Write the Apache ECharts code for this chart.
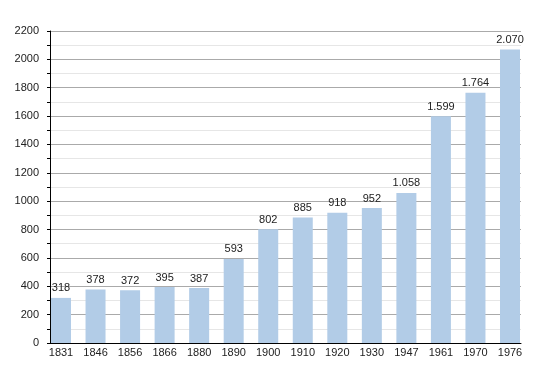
<!DOCTYPE html>
<html>
<head>
<meta charset="utf-8">
<script src="https://cdn.jsdelivr.net/npm/echarts@6/dist/echarts.min.js"></script>
<style>html,body{margin:0;padding:0;background:#fff}#c{width:550px;height:373px}</style>
</head>
<body>
<div id="c"></div>
<script>
var years = ['1831','1846','1856','1866','1880','1890','1900','1910','1920','1930','1947','1961','1970','1976'];
var population = [318,378,372,395,387,593,802,885,918,952,1058,1599,1764,2070];
var yMin = 0, yMax = 2200, yStep = 100;

function fmt(v){ return String(v).replace(/\B(?=(\d{3})+(?!\d))/g, '.'); }

var chart = echarts.init(document.getElementById('c'), null, {renderer:'canvas'});
var font = 'Liberation Sans, Arial, sans-serif';
chart.setOption({
  animation: false,
  grid: [
    {left: 50, right: 29, top: 31, bottom: 30},
    {left: 61, right: 40, top: 31, bottom: 30}
  ],
  xAxis: [
    {gridIndex: 0, type: 'category', data: years, boundaryGap: false,
     axisLine: {show: true, lineStyle: {color: '#000', width: 1}, onZero: false},
     axisTick: {show: false}, axisLabel: {show: false}, splitLine: {show: false}, z: 10},
    {gridIndex: 1, type: 'category', data: years, boundaryGap: false,
     axisLine: {show: false}, axisTick: {show: false},
     axisLabel: {color: '#222', fontSize: 11, fontFamily: font, margin: 4, interval: 0},
     splitLine: {show: false}}
  ],
  yAxis: [
    {gridIndex: 0, type: 'value', min: yMin, max: yMax, interval: yStep,
     axisLine: {show: true, lineStyle: {color: '#000', width: 1}},
     axisTick: {show: true, length: 3, lineStyle: {color: '#000'}},
     axisLabel: {color: '#222', fontSize: 11, fontFamily: font, margin: 11,
       formatter: function(v){ return v % 200 === 0 ? String(v) : ''; }},
     splitLine: {show: true, lineStyle: {color: ['#aaaaaa', '#e6e6e6'], width: 1}}, z: 0},
    {gridIndex: 1, type: 'value', min: yMin, max: yMax, interval: yStep, show: false,
     splitLine: {show: false}}
  ],
  series: [{
    type: 'bar', xAxisIndex: 1, yAxisIndex: 1, data: population, barWidth: 20, z: 5,
    itemStyle: {color: '#b2cce7'},
    label: {show: true, position: 'top', distance: 4, color: '#222', fontSize: 11, fontFamily: font,
      formatter: function(p){ return fmt(p.value); }}
  }]
});
</script>
</body>
</html>
